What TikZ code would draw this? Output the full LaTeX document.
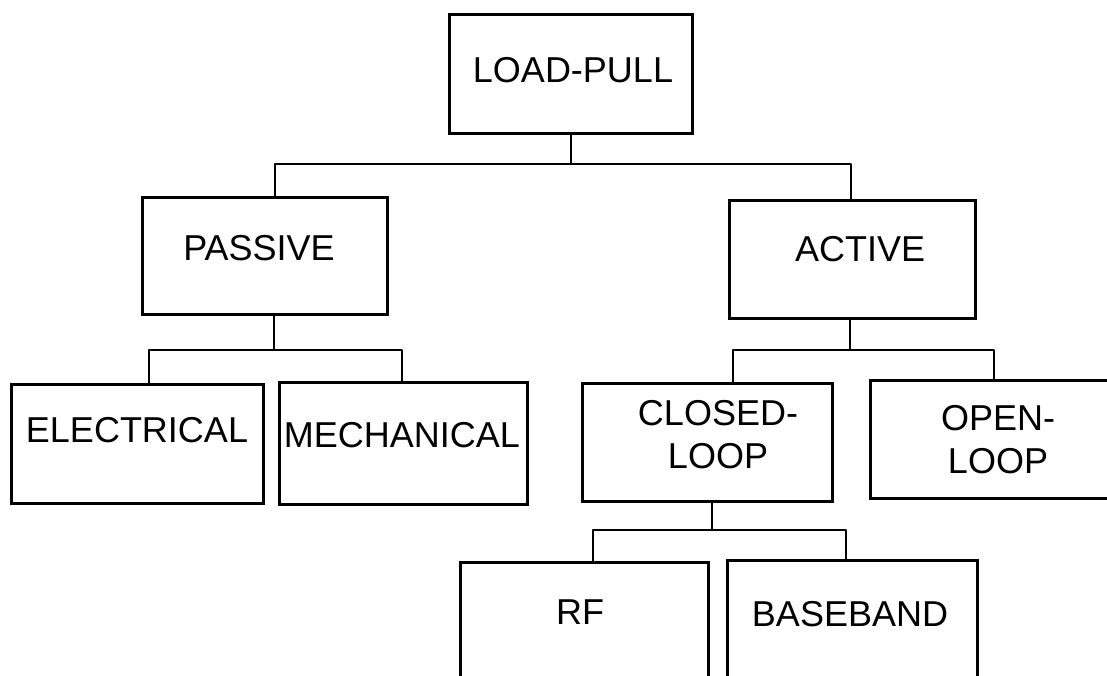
\documentclass[tikz,border=0pt]{standalone}
\usepackage{fontspec}
\setmainfont{Liberation Sans}
\begin{document}
\begin{tikzpicture}[x=1pt,y=-1pt,
  box/.style={draw=black, line width=3pt, inner sep=0pt, fill=white},
  lbl/.style={inner sep=0pt, align=center, font=\fontsize{36}{43}\selectfont},
  conn/.style={draw=black, line width=2.9pt, line join=round}]
\path[use as bounding box, fill=white] (0,0) rectangle (1107,675);
\clip (0,0) rectangle (1107,675);
% boxes
\node[box, minimum width=243pt, minimum height=119pt] (lp)  at (570.5,73.5) {};
\node[box, minimum width=245pt, minimum height=117pt] (pas) at (264.5,255.5) {};
\node[box, minimum width=246pt, minimum height=118pt] (act) at (852,259) {};
\node[box, minimum width=252pt, minimum height=119pt] (ele) at (137,443.5) {};
\node[box, minimum width=248pt, minimum height=122pt] (mec) at (403,443) {};
\node[box, minimum width=250pt, minimum height=118pt] (cl)  at (707,442) {};
\node[box, minimum width=246pt, minimum height=118pt] (ol)  at (993,439) {};
\node[box, minimum width=248pt, minimum height=118pt] (rf)  at (584,621) {};
\node[box, minimum width=250pt, minimum height=118pt] (bb)  at (852,619) {};
% labels
\node[lbl] (lp-t)  at (573,70) {LOAD-PULL};
\node[lbl] (pas-t) at (259,248) {PASSIVE};
\node[lbl] (act-t) at (860,249.5) {ACTIVE};
\node[lbl] (ele-t) at (137,430.5) {ELECTRICAL};
\node[lbl] (mec-t) at (402,435) {MECHANICAL};
\node[lbl] (cl-t)  at (718,435) {CLOSED-\\LOOP};
\node[lbl] (ol-t)  at (998,439.5) {OPEN-\\LOOP};
\node[lbl] (rf-t)  at (580,612) {RF};
\node[lbl] (bb-t)  at (850,614) {BASEBAND};
% bar levels
\coordinate (b1) at (0,164);
\coordinate (b2) at (0,350);
\coordinate (b3) at (0,530);
% connector end points
\coordinate (lpS)  at ([xshift=0.5pt]lp.south);
\coordinate (pasN) at ([xshift=10.5pt]pas.north);
\coordinate (actN) at ([xshift=-1pt]act.north);
\coordinate (pasS) at ([xshift=9.5pt]pas.south);
\coordinate (eleN) at ([xshift=12pt]ele.north);
\coordinate (mecN) at ([xshift=-1pt]mec.north);
\coordinate (actS) at ([xshift=-2pt]act.south);
\coordinate (clN)  at ([xshift=26pt]cl.north);
\coordinate (olN)  at ([xshift=1pt]ol.north);
\coordinate (clS)  at ([xshift=5pt]cl.south);
\coordinate (rfN)  at ([xshift=9pt]rf.north);
\coordinate (bbN)  at ([xshift=-6pt]bb.north);
% connectors
\draw[conn] (lpS) -- (lpS |- b1);
\draw[conn] (pasN) -- (pasN |- b1) -- (actN |- b1) -- (actN);
\draw[conn] (pasS) -- (pasS |- b2);
\draw[conn] (eleN) -- (eleN |- b2) -- (mecN |- b2) -- (mecN);
\draw[conn] (actS) -- (actS |- b2);
\draw[conn] (clN) -- (clN |- b2) -- (olN |- b2) -- (olN);
\draw[conn] (clS) -- (clS |- b3);
\draw[conn] (rfN) -- (rfN |- b3) -- (bbN |- b3) -- (bbN);
\end{tikzpicture}
\end{document}
